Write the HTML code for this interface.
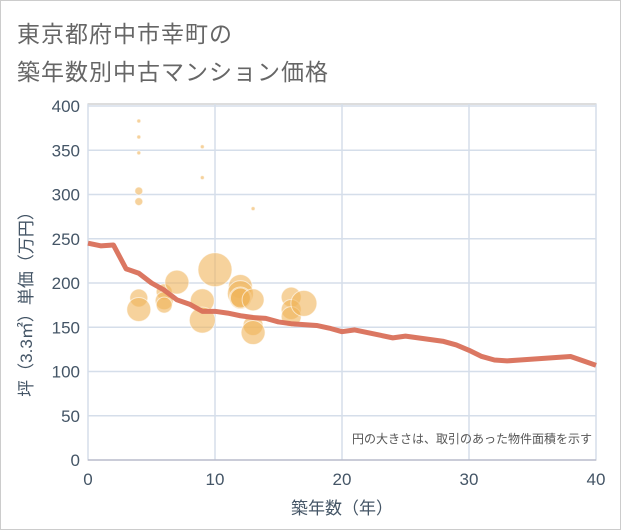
<!DOCTYPE html>
<html><head><meta charset="utf-8"><style>
body{margin:0;background:#fff;}
#wrap{position:relative;width:619px;height:528px;border:1px solid #ccc;background:#fff;font-family:"Liberation Sans","Noto Sans CJK JP",sans-serif;}
.t{position:absolute;left:16px;font-size:23px;color:#666;letter-spacing:1px;}
</style></head><body>
<div id="wrap">
<div class="t" style="top:14px">東京都府中市幸町の</div>
<div class="t" style="top:52px">築年数別中古マンション価格</div>
<svg id="svg" width="621" height="530" style="position:absolute;left:-1px;top:-1px"></svg>
</div>
<script>
const bubbleX=[4,4,4,4,4,4,4,6,6,6,7,9,9,9,9,10,12,12,12,12,13,13,13,13,16,16,16,17];
const bubbleY=[383,365,347,304,292,183,170,190,180,175,201,354,319,180,158,215,196,188,183,183,284,181,152,144,184,170,162,177];
const bubbleR=[2,2,2,4,4,9,12,8,9,8,12,2,2,12,13,17,12,13,11,10,2,11,10,12,10,10,10,13];
const lineX=[0,1,2,3,4,5,6,7,8,9,10,11,12,13,14,15,16,17,18,19,20,21,22,23,24,25,26,27,28,29,30,31,32,33,34,35,36,37,38,39,40];
const lineY=[245,242,243,216,211,200,192,181,176,168,168,166,163,161,160,156,154,153,152,149,145,147,144,141,138,140,138,136,134,130,124,117,113,112,113,114,115,116,117,112,107];
const xTicks=[0,10,20,30,40];
const yTicks=[0,50,100,150,200,250,300,350,400];
const NS="http://www.w3.org/2000/svg";
const svg=document.getElementById('svg');
const X0=88,X1=596,Y0=460,Y1=106;
const sx=v=>X0+(X1-X0)*v/40, sy=v=>Y0-(Y0-Y1)*v/400;
function mk(t,a,p){const e=document.createElementNS(NS,t);for(const k in a)e.setAttribute(k,a[k]);(p||svg).appendChild(e);return e;}
mk('rect',{x:X0,y:Y1-2,width:X1-X0,height:Y0-Y1+2,fill:'#fff',stroke:'#bbb'});
yTicks.forEach(v=>{const l=mk('line',{x1:X0,x2:X1,y1:sy(v),y2:sy(v),stroke:'#d5deea','stroke-width':1.5});

const t=mk('text',{x:X0-8,y:sy(v)+6,'text-anchor':'end','font-size':17,fill:'#445566'});t.textContent=v;
});
xTicks.forEach(v=>{const l=mk('line',{x1:sx(v),x2:sx(v),y1:Y1-2,y2:Y0,stroke:'#d5deea','stroke-width':1.5});

const t=mk('text',{x:sx(v),y:Y0+25,'text-anchor':'middle','font-size':17,fill:'#445566'});t.textContent=v;
});
mk('line',{x1:X0,x2:X1,y1:Y0,y2:Y0,stroke:'#aab'});
bubbleX.forEach((v,i)=>{const c=mk('circle',{cx:sx(v),cy:sy(bubbleY[i]),r:bubbleR[i],fill:'rgba(240,180,90,0.6)',stroke:'rgba(255,255,255,0.6)','stroke-width':1});
});
const p=mk('polyline',{points:lineX.map((v,i)=>sx(v)+','+sy(lineY[i])).join(' '),fill:'none',stroke:'#d9705a','stroke-width':5,'stroke-linejoin':'round','stroke-opacity':0.95});

const n=mk('text',{x:592,y:443,'text-anchor':'end','font-size':12,fill:'#555'});n.textContent='円の大きさは、取引のあった物件面積を示す';

const xt=mk('text',{x:342,y:514,'text-anchor':'middle','font-size':17,fill:'#445566'});xt.textContent='築年数（年）';

const yt=mk('text',{x:0,y:0,'text-anchor':'middle','font-size':17,fill:'#445566',transform:'translate(32,300) rotate(-90)'});yt.textContent='坪（3.3㎡）単価（万円）';

</script>
</body></html>
